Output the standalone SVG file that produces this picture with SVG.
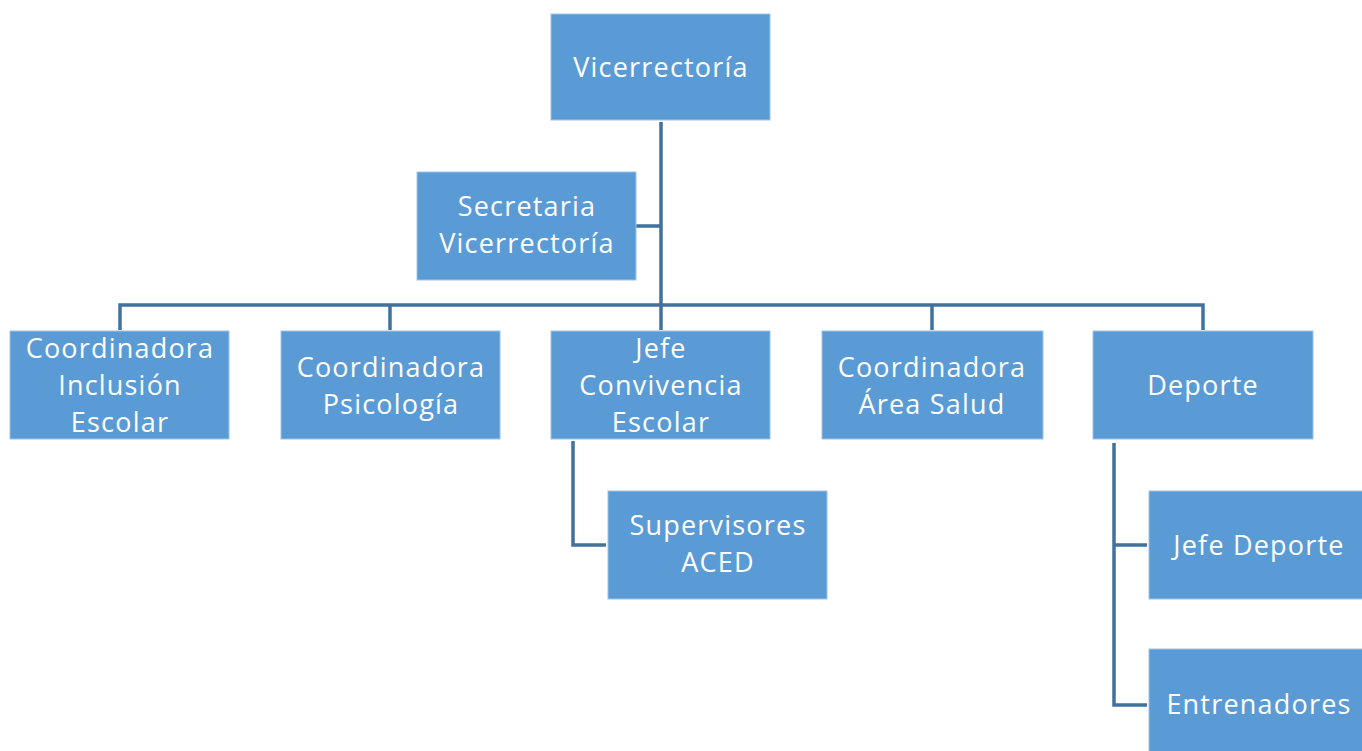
<svg xmlns="http://www.w3.org/2000/svg" width="1362" height="751" viewBox="0 0 1362 751">
<style>
.box{fill:#5B9BD5;stroke:#9DC3E6;stroke-width:1}
.t{font-family:"Open Sans","Liberation Sans",sans-serif;font-size:27px;fill:#FFFFFF;text-anchor:middle;letter-spacing:1.2px}
.c{fill:none;stroke:#41719C;stroke-width:3.5}
</style>
<rect width="1362" height="751" fill="#FFFFFF"/>
<g id="connectors">
<path class="c" d="M661,122 V305"/>
<path class="c" d="M636,226 H661"/>
<path class="c" d="M120,330 V305 H1203 V330"/>
<path class="c" d="M390,305 V330"/>
<path class="c" d="M661,305 V330"/>
<path class="c" d="M932,305 V330"/>
<path class="c" d="M573,441 V545 H606"/>
<path class="c" d="M1114,443 V705 H1147"/>
<path class="c" d="M1114,545 H1147"/>
</g>
<g id="vicerrectoria"><rect class="box" x="551" y="14" width="219" height="106"/><text class="t" x="661" y="77">Vicerrectoría</text></g>
<g id="secretaria"><rect class="box" x="417" y="172" width="219" height="108"/><text class="t" x="527" y="216">Secretaria</text><text class="t" x="527" y="253">Vicerrectoría</text></g>
<g id="inclusion"><rect class="box" x="10" y="331" width="219" height="108"/><text class="t" x="120" y="358">Coordinadora</text><text class="t" x="120" y="395">Inclusión</text><text class="t" x="120" y="432">Escolar</text></g>
<g id="psicologia"><rect class="box" x="281" y="331" width="219" height="108"/><text class="t" x="391" y="377">Coordinadora</text><text class="t" x="391" y="414">Psicología</text></g>
<g id="convivencia"><rect class="box" x="551" y="331" width="219" height="108"/><text class="t" x="661" y="358">Jefe</text><text class="t" x="661" y="395">Convivencia</text><text class="t" x="661" y="432">Escolar</text></g>
<g id="salud"><rect class="box" x="822" y="331" width="221" height="108"/><text class="t" x="932" y="377">Coordinadora</text><text class="t" x="932" y="414">Área Salud</text></g>
<g id="deporte"><rect class="box" x="1093" y="331" width="220" height="108"/><text class="t" x="1203" y="395">Deporte</text></g>
<g id="supervisores"><rect class="box" x="608" y="491" width="219" height="108"/><text class="t" x="718" y="535">Supervisores</text><text class="t" x="718" y="572">ACED</text></g>
<g id="jefe-deporte"><rect class="box" x="1149" y="491" width="220" height="108"/><text class="t" x="1259" y="555">Jefe Deporte</text></g>
<g id="entrenadores"><rect class="box" x="1149" y="649" width="220" height="108"/><text class="t" x="1259" y="714">Entrenadores</text></g>
</svg>
